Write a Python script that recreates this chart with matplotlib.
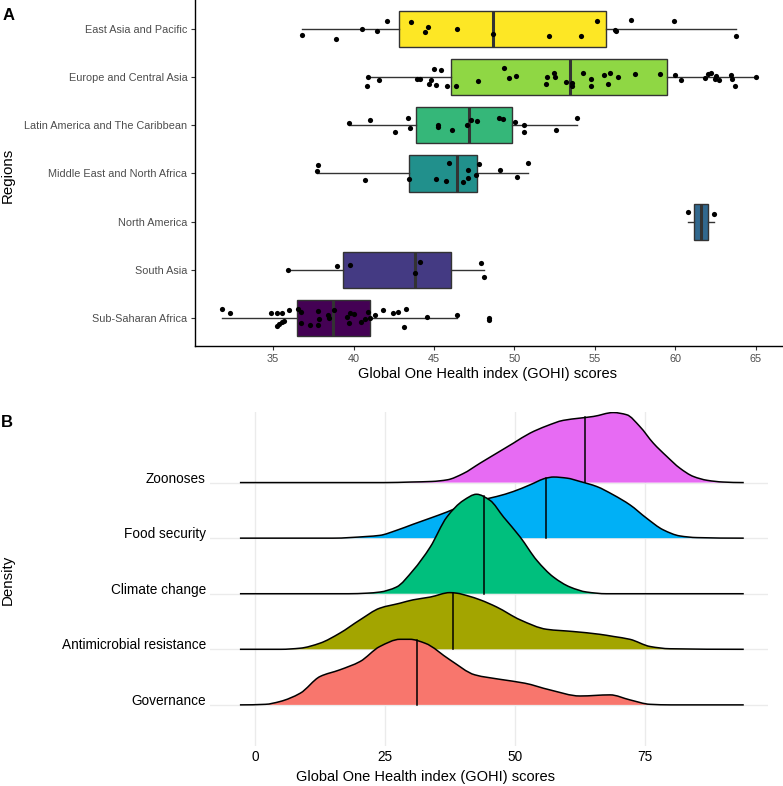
import matplotlib
matplotlib.use("Agg")
import matplotlib.pyplot as plt
import numpy as np
from matplotlib.patches import PathPatch
from matplotlib.path import Path

plt.rcParams["font.family"] = ["Liberation Sans", "DejaVu Sans"]

# ---------------- Panel A data: GOHI scores by region ----------------
regions = [
    "East Asia and Pacific",
    "Europe and Central Asia",
    "Latin America and The Caribbean",
    "Middle East and North Africa",
    "North America",
    "South Asia",
    "Sub-Saharan Africa",
]
region_colors = ["#FDE725", "#8FD744", "#35B779", "#21908C", "#31688E", "#443A83", "#440154"]

# box statistics
whisker_lo = [36.80, 40.90, 39.72, 37.70, 60.79, 35.91, 31.83]
q1 = [42.83, 46.03, 43.91, 43.43, 61.17, 39.35, 36.47]
median = [48.67, 53.48, 47.18, 46.40, 61.58, 43.79, 38.73]
q3 = [55.71, 59.51, 49.82, 47.68, 62.04, 46.05, 41.05]
whisker_hi = [63.78, 65.00, 53.92, 50.87, 62.41, 48.08, 46.46]

# country scores and their vertical jitter
east_asia = [36.8, 38.9, 40.55, 41.44, 42.1, 43.6, 44.44, 44.63, 46.4, 48.67,
             52.17, 54.15, 55.15, 56.24, 56.33, 57.28, 59.9, 63.78]
east_asia_jit = [-0.12, -0.20, -0.01, -0.04, 0.17, 0.15, -0.07, 0.03, 0.0, -0.10,
                 -0.14, -0.14, 0.17, -0.02, -0.05, 0.19, 0.16, -0.14]
europe = [40.90, 40.82, 41.59, 43.97, 44.10, 44.99, 45.46, 44.84, 44.68, 45.13, 45.81,
          46.34, 47.74, 49.36, 49.65, 50.08, 52.05, 52.46, 52.55, 51.97, 53.23,
          53.55, 53.58, 54.27, 54.79, 54.76, 55.57, 55.97, 55.82, 56.42, 57.52,
          59.08, 59.97, 60.38, 61.83, 62.04, 62.20, 62.45, 62.70, 62.51, 63.49,
          63.53, 63.74, 65.00]
europe_jit = [0.0, -0.18, -0.07, -0.04, -0.03, 0.17, 0.14, -0.05, -0.15, -0.16, -0.18,
              -0.19, -0.09, 0.19, -0.02, 0.03, 0.01, 0.08, 0.01, -0.14, -0.11,
              -0.12, -0.19, 0.09, -0.03, -0.19, 0.04, 0.09, -0.14, 0.01, 0.06,
              0.06, 0.04, -0.06, -0.02, 0.07, 0.09, -0.03, -0.05, 0.02, 0.04,
              -0.03, -0.18, 0.01]
latin = [39.72, 41.05, 42.58, 43.39, 43.50, 45.25, 45.25, 46.09, 47.06, 47.29,
         47.66, 49.03, 49.29, 50.02, 50.58, 50.58, 52.59, 53.92]
latin_jit = [0.05, 0.10, -0.13, 0.15, -0.06, 0.0, -0.04, -0.10, 0.0, 0.12,
             0.09, 0.15, 0.13, 0.07, 0.0, -0.13, -0.10, 0.15]
mena = [37.78, 37.70, 40.74, 43.43, 45.11, 45.75, 45.92, 46.83, 47.12, 47.14,
        47.64, 47.78, 49.09, 50.15, 50.87]
mena_jit = [0.18, 0.05, -0.14, -0.11, -0.11, -0.15, 0.21, -0.17, 0.08, -0.09,
            -0.04, 0.20, 0.08, -0.08, 0.22]
north_america = [60.79, 62.41]
north_america_jit = [0.20, 0.15]
south_asia = [35.91, 38.98, 39.77, 44.14, 43.79, 47.91, 48.08]
south_asia_jit = [0.0, 0.09, 0.10, 0.16, -0.07, 0.15, -0.14]
ssa = [31.83, 32.33, 34.88, 35.21, 35.56, 35.98, 35.21, 35.37, 35.56, 35.68,
       36.53, 36.72, 36.72, 37.28, 37.80, 37.84, 37.80, 38.38, 38.48, 38.77,
       39.60, 39.77, 40.03, 39.72, 40.49, 40.72, 40.90, 41.01, 41.32, 41.80,
       42.46, 42.77, 43.27, 43.12, 44.55, 46.46, 48.45, 48.45]
ssa_jit = [0.18, 0.10, 0.10, 0.10, 0.10, 0.16, -0.17, -0.13, -0.08, -0.06,
           0.19, 0.12, -0.10, -0.15, 0.14, -0.02, -0.15, 0.06, 0.01, 0.17,
           0.03, 0.10, 0.08, -0.10, -0.08, -0.02, 0.13, 0.01, 0.07, 0.16,
           0.10, 0.13, 0.19, -0.18, 0.03, 0.07, 0.0, -0.04]

points = [east_asia, europe, latin, mena, north_america, south_asia, ssa]
jitters = [east_asia_jit, europe_jit, latin_jit, mena_jit, north_america_jit,
           south_asia_jit, ssa_jit]

# ---------------- Panel B data: density ridges per dimension ----------------
dimensions = ["Governance", "Antimicrobial resistance", "Climate change",
              "Food security", "Zoonoses"]
dim_colors = ["#F8766D", "#A3A500", "#00BF7D", "#00B0F6", "#E76BF3"]
dim_medians = [31.1, 38.0, 44.0, 55.9, 63.5]

gov_x = [-2.9, 2, 4.8, 8.7, 12.5, 16.3, 20.2, 24, 27.9, 29.8, 32.7, 37.5, 42.3,
         47.1, 51.9, 56.7, 62.5, 68.3, 72.1, 76, 80, 94]
gov_h = [0, 0.01, 0.06, 0.21, 0.51, 0.63, 0.78, 1.05, 1.18, 1.18, 1.11, 0.81, 0.54,
         0.46, 0.39, 0.27, 0.16, 0.18, 0.09, 0.01, 0, 0]
amr_x = [-2.9, 5, 8.7, 12.5, 16.3, 20.2, 24, 27.9, 30.4, 33.7, 37.5, 38.8, 41, 43.3,
         46.5, 51, 56.1, 61.2, 66.3, 69, 72.1, 76, 79.8, 94]
amr_h = [0, 0, 0.02, 0.11, 0.29, 0.53, 0.74, 0.83, 0.89, 0.94, 1.02, 1.01, 0.96, 0.89,
         0.76, 0.53, 0.36, 0.32, 0.27, 0.23, 0.18, 0.05, 0.01, 0]
climate_x = [-2.9, 18, 21.5, 24, 27.2, 30.4, 33.7, 36.9, 40.1, 42.6, 45.2, 47.8, 51,
             54.2, 57.4, 60.6, 63.8, 67.6, 94]
climate_h = [0, 0, 0.01, 0.03, 0.12, 0.42, 0.84, 1.38, 1.68, 1.79, 1.68, 1.38, 1.02,
             0.60, 0.30, 0.12, 0.03, 0, 0]
food_x = [-2.9, 15, 21.5, 24, 27.2, 30.4, 33.7, 36.9, 40.1, 43.3, 46.5, 49.7, 52.9,
          56, 57.4, 60, 62.5, 65.7, 68.9, 72.1, 75.3, 78.5, 81.7, 85, 94]
food_h = [0, 0, 0.03, 0.05, 0.14, 0.25, 0.36, 0.47, 0.59, 0.68, 0.75, 0.84, 0.96,
          1.08, 1.10, 1.08, 1.02, 0.93, 0.78, 0.60, 0.36, 0.15, 0.04, 0.01, 0]
zoo_x = [-2.9, 25, 30, 34, 37, 40, 43.3, 46.5, 49.7, 52.9, 56.1, 59.3, 62.5, 65.1,
         68.9, 71.5, 74, 76.6, 79.2, 81.7, 84.3, 87, 90, 94]
zoo_h = [0, 0, 0.01, 0.02, 0.05, 0.16, 0.35, 0.53, 0.71, 0.89, 1.02, 1.12, 1.16, 1.19,
         1.26, 1.22, 1.01, 0.71, 0.47, 0.26, 0.11, 0.04, 0.01, 0]

ridge_x = [gov_x, amr_x, climate_x, food_x, zoo_x]
ridge_h = [gov_h, amr_h, climate_h, food_h, zoo_h]


def pchip_slopes(x, y):
    # monotone (Fritsch-Carlson) tangents so the drawn curve never overshoots
    h = np.diff(x)
    d = np.diff(y) / h
    m = np.zeros_like(y)
    for k in range(1, len(x) - 1):
        if d[k - 1] * d[k] > 0:
            w1 = 2 * h[k] + h[k - 1]
            w2 = h[k] + 2 * h[k - 1]
            m[k] = (w1 + w2) / (w1 / d[k - 1] + w2 / d[k])
    return m


def smooth_path(x, y, base, closed):
    x = np.asarray(x, float)
    y = np.asarray(y, float)
    m = pchip_slopes(x, y)
    verts, codes = [], []
    if closed:
        verts += [(x[0], base), (x[0], base + y[0])]
        codes += [Path.MOVETO, Path.LINETO]
    else:
        verts.append((x[0], base + y[0]))
        codes.append(Path.MOVETO)
    for k in range(len(x) - 1):
        dx = x[k + 1] - x[k]
        verts += [(x[k] + dx / 3, base + y[k] + m[k] * dx / 3),
                  (x[k + 1] - dx / 3, base + y[k + 1] - m[k + 1] * dx / 3),
                  (x[k + 1], base + y[k + 1])]
        codes += [Path.CURVE4] * 3
    if closed:
        verts += [(x[-1], base), (x[0], base)]
        codes += [Path.LINETO, Path.CLOSEPOLY]
    return Path(verts, codes)


def curve_at(x, y, xv):
    x = np.asarray(x, float)
    y = np.asarray(y, float)
    m = pchip_slopes(x, y)
    k = min(max(np.searchsorted(x, xv) - 1, 0), len(x) - 2)
    dx = x[k + 1] - x[k]
    t = (xv - x[k]) / dx
    h00 = 2 * t**3 - 3 * t**2 + 1
    h10 = t**3 - 2 * t**2 + t
    h01 = -2 * t**3 + 3 * t**2
    h11 = t**3 - t**2
    return h00 * y[k] + h10 * dx * m[k] + h01 * y[k + 1] + h11 * dx * m[k + 1]


# ---------------- figure ----------------
W, H = 783, 786
fig = plt.figure(figsize=(W / 100, H / 100), dpi=100)


def px_box(left, top, right, bottom):
    return [left / W, 1 - bottom / H, (right - left) / W, (bottom - top) / H]


# ---- Panel A ----
axA = fig.add_axes(px_box(195, 0, 783, 346))
n = len(regions)
ypos = np.arange(n, 0, -1)  # East Asia at top
stats = []
for i in range(n):
    stats.append(dict(whislo=whisker_lo[i], q1=q1[i], med=median[i], q3=q3[i],
                      whishi=whisker_hi[i], fliers=[]))
bp = axA.bxp(stats, positions=ypos, widths=0.75, orientation="horizontal",
             showcaps=False, showfliers=False, patch_artist=True,
             boxprops=dict(edgecolor="#333333", linewidth=1.0),
             whiskerprops=dict(color="#333333", linewidth=1.0),
             medianprops=dict(color="#333333", linewidth=2.2))
for patch, c in zip(bp["boxes"], region_colors):
    patch.set_facecolor(c)

for i in range(n):
    yy = ypos[i] + np.array(jitters[i])
    axA.scatter(points[i], yy, s=14, color="black", zorder=5, linewidths=0)

axA.set_xlim(30.14, 66.7)
axA.set_ylim(0.42, 7.6)
axA.set_yticks(ypos)
axA.set_yticklabels(regions)
axA.set_xticks([35, 40, 45, 50, 55, 60, 65])
axA.tick_params(axis="both", labelsize=7.8, labelcolor="#4D4D4D", color="#333333",
                length=3, width=0.8, pad=2.5)
for side in ["top", "right"]:
    axA.spines[side].set_visible(False)
for side in ["left", "bottom"]:
    axA.spines[side].set_linewidth(1.0)
    axA.spines[side].set_color("black")

# ---- Panel B ----
axB = fig.add_axes(px_box(210, 412, 767.5, 746))
for xv in [0, 25, 50, 75]:
    axB.axvline(xv, color="#EBEBEB", linewidth=1.0, zorder=0)
for k in range(len(dimensions)):
    axB.axhline(k + 1, color="#EBEBEB", linewidth=1.0, zorder=0)

for k in range(len(dimensions) - 1, -1, -1):
    base = k + 1
    z = 2 + (len(dimensions) - k) * 2
    fill = PathPatch(smooth_path(ridge_x[k], ridge_h[k], base, True),
                     facecolor=dim_colors[k], edgecolor="none", zorder=z)
    axB.add_patch(fill)
    outline = PathPatch(smooth_path(ridge_x[k], ridge_h[k], base, False),
                        facecolor="none", edgecolor="black", linewidth=1.1,
                        zorder=z + 1, joinstyle="round")
    axB.add_patch(outline)
    m = dim_medians[k]
    axB.plot([m, m], [base, base + curve_at(ridge_x[k], ridge_h[k], m)],
             color="black", linewidth=1.1, zorder=z + 1)

axB.set_xlim(-8.65, 98.56)
axB.set_ylim(0.26, 6.27)
axB.set_xticks([0, 25, 50, 75])
axB.set_yticks(np.arange(1, len(dimensions) + 1))
axB.set_yticklabels(dimensions)
for lbl in axB.get_yticklabels():
    lbl.set_verticalalignment("baseline")
axB.tick_params(axis="both", length=0, labelsize=9.8, labelcolor="black")
axB.tick_params(axis="y", pad=3)
axB.tick_params(axis="x", pad=3)
for side in axB.spines:
    axB.spines[side].set_visible(False)


# ---- titles and panel tags ----
def ftext(x, y, s, **kw):
    fig.text(x / W, 1 - y / H, s, **kw)


ftext(9, 15.5, "A", fontsize=12, fontweight="bold", ha="center", va="center")
ftext(7, 422.5, "B", fontsize=12, fontweight="bold", ha="center", va="center")
ftext(8, 175, "Regions", fontsize=10.8, rotation=90, ha="center", va="center")
ftext(8, 580, "Density", fontsize=10.8, rotation=90, ha="center", va="center")
ftext(488, 374, "Global One Health index (GOHI) scores", fontsize=10.5,
      ha="center", va="center")
ftext(425, 777, "Global One Health index (GOHI) scores", fontsize=10.5,
      ha="center", va="center")

fig.savefig("out.png", dpi=100)
